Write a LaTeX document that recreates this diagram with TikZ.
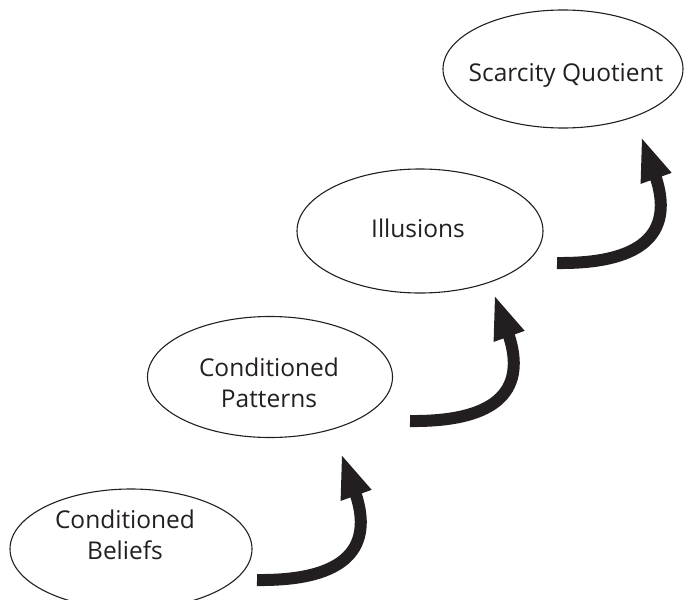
\documentclass[tikz,border=0pt]{standalone}
\usepackage{fontspec}
\setmainfont{Open Sans}
\usetikzlibrary{shapes.geometric,arrows.meta,calc}
\definecolor{ink}{RGB}{35,31,32}
\begin{document}
\begin{tikzpicture}[x=1pt,y=-1pt,
  stage/.style={draw=ink,line width=1.1pt,ellipse,inner sep=0pt},
  caption/.style={text=ink,font=\fontsize{24.5}{31}\selectfont,align=center,inner sep=0pt},
  flow/.style={draw=ink,line width=12pt,
    -{Triangle[length=45pt,width=29pt]}}]
\useasboundingbox (0,0) rectangle (684,599);

% the four stages, rising from bottom left to top right
\node[stage,minimum width=242pt,minimum height=120pt] (e1) at (131,549) {};
\node[stage,minimum width=245pt,minimum height=121pt] (e2) at (270,377) {};
\node[stage,minimum width=246pt,minimum height=124pt] (e3) at (420,231) {};
\node[stage,minimum width=240pt,minimum height=118pt] (e4) at (563,69) {};

\node[caption] (t1) at (125,535) {Conditioned\\Beliefs};
\node[caption] (t2) at (269,383) {Conditioned\\Patterns};
\node[caption,anchor=base] (t3) at (418,237) {Illusions};
\node[caption,anchor=base] (t4) at (566,82) {Scarcity Quotient};

% curved arrows leading from each stage up to the next
\coordinate (s1) at (257,580); \coordinate (h1) at (341,453);
\coordinate (s2) at (410,421); \coordinate (h2) at (494,294);
\coordinate (s3) at (557,263); \coordinate (h3) at (641,136);

\foreach \i in {1,2,3}{
  \draw[flow] (s\i) .. controls +(93,1) and +(16,50) .. ($(h\i)+(15,42)$) -- (h\i);
}
\end{tikzpicture}
\end{document}
